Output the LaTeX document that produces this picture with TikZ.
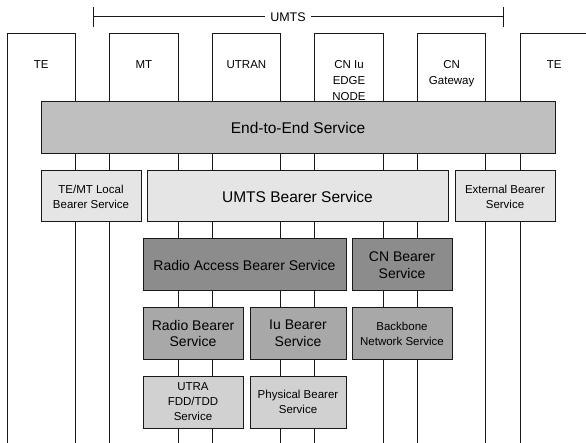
\documentclass[tikz,border=0pt]{standalone}
\usepackage{fontspec}
\setmainfont{Liberation Sans}
\begin{document}
\begin{tikzpicture}[%
        x=1pt, y=-1pt,
        lifeline/.style={line width=1pt, color=black!90},
        toplabel/.style={anchor=north, inner sep=0pt, align=center, text=black,
            font=\fontsize{11.5}{16}\selectfont},
        service/.style={shape=rectangle, draw=black!90, line width=1pt, inner sep=0pt,
            align=center, text=black},
        bigserv/.style={service, font=\fontsize{15.5}{18}\selectfont},
        midserv/.style={service, font=\fontsize{14}{16.5}\selectfont},
        smallserv/.style={service, font=\fontsize{11.5}{15}\selectfont}
    ]
    \useasboundingbox (0,0) rectangle (586,443);
    \clip (0,0) rectangle (586,443);

    % network elements with their lifelines
    \foreach \i/\name/\txt in
        {0/teA/TE, 1/mt/MT, 2/utran/UTRAN, 3/cnedge/{CN Iu\\EDGE\\NODE},
         4/cngw/{CN\\Gateway}, 5/teB/TE}
    {
        \draw [lifeline] ({7+102.6*\i},450) |- ({75.5+102.6*\i},34) -- ({75.5+102.6*\i},450);
        \node [toplabel] (\name) at ({41.25+102.6*\i},60.5) {\txt};
    }

    % extent of UMTS
    \coordinate (umtsL) at (93,17);
    \coordinate (umtsR) at (503,17);
    \node [inner sep=5pt, text=black, font=\fontsize{12.5}{14}\selectfont] (umts) at (288,17) {UMTS};
    \draw [lifeline] (umtsL) -- (umts);
    \draw [lifeline] (umts) -- (umtsR);
    \draw [lifeline] ([yshift=-10pt]umtsL) -- ([yshift=10pt]umtsL);
    \draw [lifeline] ([yshift=-10pt]umtsR) -- ([yshift=10pt]umtsR);

    % bearer services, layer by layer
    \node [bigserv, fill=black!25, minimum width=514, minimum height=52]
        (e2e) at (298,128) {End-to-End Service};

    \node [smallserv, fill=black!10, minimum width=100, minimum height=51]
        (local) at (91,196.5) {TE/MT Local\\Bearer Service};
    \node [bigserv, fill=black!10, minimum width=301, minimum height=51]
        (umtsbs) at (297.5,196.5) {UMTS Bearer Service};
    \node [smallserv, fill=black!10, minimum width=100, minimum height=51]
        (extbs) at (505,196.5) {External Bearer\\Service};

    \node [midserv, fill=black!45, minimum width=203, minimum height=52]
        (rab) at (244.5,265) {Radio Access Bearer Service};
    \node [midserv, fill=black!45, minimum width=100, minimum height=52]
        (cnbs) at (402,265) {CN Bearer\\Service};

    \node [midserv, fill=black!34, minimum width=100, minimum height=51]
        (rbs) at (193,333.5) {Radio Bearer\\Service};
    \node [midserv, fill=black!34, minimum width=96, minimum height=51]
        (iubs) at (298,333.5) {Iu Bearer\\Service};
    \node [smallserv, fill=black!34, minimum width=100, minimum height=51]
        (backbone) at (402,333.5) {Backbone\\Network Service};

    \node [smallserv, fill=black!18, minimum width=100, minimum height=52]
        (utra) at (193,402) {UTRA\\FDD/TDD\\Service};
    \node [smallserv, fill=black!18, minimum width=96, minimum height=52]
        (phys) at (298,402) {Physical Bearer\\Service};
\end{tikzpicture}
\end{document}
